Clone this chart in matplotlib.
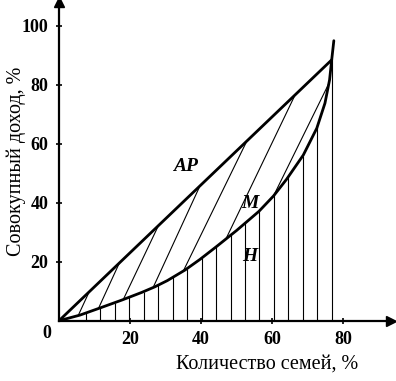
import matplotlib.pyplot as plt
import numpy as np

plt.rcParams['font.family'] = ['Liberation Serif', 'DejaVu Serif']
plt.rcParams['font.weight'] = 'bold'

# equality line AP
ap_x = [0, 76.8]
ap_y = [0, 88.5]

# Lorenz curve M
fam_x = [0, 5.9, 11.5, 17.7, 23.3, 27, 30.5, 35.5, 39.7, 44.4, 50, 56.3,
         60.4, 64.1, 68.8, 72.6, 74.9, 76.2, 76.8, 77.4]
inc_y = [0, 1.9, 4.3, 7.0, 9.6, 11.5, 13.6, 17.2, 20.8, 25.2, 30.6, 37.1,
         42.3, 48.0, 56.2, 65.3, 73.8, 81.7, 88.5, 95.0]

# diagonal hatch: start on M, end on AP (last one ends back on M)
hatch_lo = [5.4, 11.1, 18.1, 26.5, 35.0, 47.0, 60.4]
hatch_hi = [8.5, 17.0, 28.0, 39.7, 52.9, 66.5, 76.0]
hi_on_curve = [False, False, False, False, False, False, True]

x_ticks = [20, 40, 60, 80]
y_ticks = [20, 40, 60, 80, 100]

fig = plt.figure(figsize=(3.96, 3.81), dpi=100)
ax = fig.add_axes([59 / 396, 60.3 / 381, 332 / 396, 318.3 / 381])

# vertical hatch under the curve (area H)
vx = np.linspace(7.6, 76.8, 18)
ax.vlines(vx, 0, np.interp(vx, fam_x, inc_y), colors='k', lw=0.8)

for lo, hi, on_m in zip(hatch_lo, hatch_hi, hi_on_curve):
    y0 = np.interp(lo, fam_x, inc_y)
    y1 = np.interp(hi, fam_x, inc_y) if on_m else np.interp(hi, ap_x, ap_y)
    ax.plot([lo, hi], [y0, y1], color='k', lw=0.8)

ax.plot(ap_x, ap_y, color='k', lw=2.0, solid_capstyle='round')
ax.plot(fam_x, inc_y, color='k', lw=2.0, solid_capstyle='round',
        solid_joinstyle='round')

ax.set_xlim(0, 93.5)
ax.set_ylim(0, 108)
for s in ['top', 'right']:
    ax.spines[s].set_visible(False)
for s in ['left', 'bottom']:
    ax.spines[s].set_linewidth(1.6)
ax.plot(1, 0, '>k', ms=7, transform=ax.transAxes, clip_on=False)
ax.plot(0, 1, '^k', ms=7, transform=ax.transAxes, clip_on=False)

ax.set_xticks(x_ticks)
ax.set_yticks(y_ticks)
ax.tick_params(direction='inout', length=5, width=1.2, labelsize=13)
ax.tick_params(axis='x', pad=5)
ax.tick_params(axis='y', pad=5)
ax.text(-0.036, -0.04, '0', transform=ax.transAxes, ha='center', va='center',
        fontsize=13)

ax.set_xlabel('Количество семей, %', fontsize=14.5)
ax.xaxis.set_label_coords(0.627, -0.105)
ax.set_ylabel('Совокупный доход, %', fontsize=14.5)
ax.yaxis.set_label_coords(-0.1, 0.502)

ax.text(35.5, 52.2, 'AP', style='italic', fontsize=14, ha='center', va='center')
ax.text(53.8, 39.6, 'M', style='italic', fontsize=14, ha='center', va='center')
ax.text(53.8, 21.7, 'H', style='italic', fontsize=14, ha='center', va='center')

fig.savefig('out.png', dpi=100)
